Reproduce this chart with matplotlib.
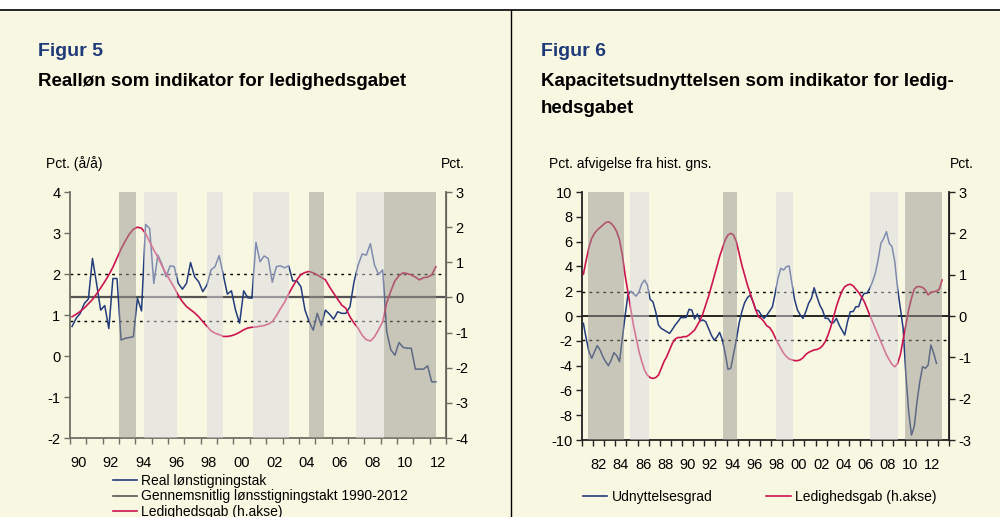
import matplotlib.pyplot as plt
import pandas as pd
from matplotlib.lines import Line2D

plt.rcParams["font.family"] = ["Liberation Sans", "DejaVu Sans"]
plt.rcParams["font.size"] = 10.5
plt.rcParams["axes.unicode_minus"] = False

BG = "#F8F7E2"
BLUE = "#233C7D"
RED = "#CC1450"
GREY = "#555555"
NAVY = "#1E3A78"

# Figur 5: real lønstigningstakt (venstre akse), kvartaler fra 1990K1
real_wage = [
    0.72, 0.92, 1.04, 1.28, 1.39, 2.38, 1.77, 1.12, 1.23, 0.67,
    1.89, 1.89, 0.39, 0.43, 0.45, 0.47, 1.41, 1.10, 3.21, 3.11,
    1.77, 2.46, 2.24, 1.93, 2.20, 2.18, 1.77, 1.63, 1.77, 2.28,
    1.93, 1.81, 1.57, 1.73, 2.10, 2.18, 2.45, 1.98, 1.51, 1.59,
    1.12, 0.80, 1.59, 1.42, 1.41, 2.77, 2.30, 2.44, 2.38, 1.80,
    2.18, 2.20, 2.15, 2.20, 1.83, 1.83, 1.69, 1.12, 0.84, 0.63,
    1.04, 0.74, 1.12, 1.02, 0.90, 1.08, 1.04, 1.04, 1.20, 1.81,
    2.22, 2.49, 2.46, 2.74, 2.22, 1.99, 2.10, 0.59, 0.15, 0.02,
    0.33, 0.21, 0.19, 0.19, -0.32, -0.32, -0.32, -0.24, -0.63, -0.63,
]
# ledighedsgab (højre akse), samme kvartaler
gap5 = [
    -0.55, -0.48, -0.40, -0.30, -0.18, -0.06, 0.10, 0.27, 0.45, 0.64,
    0.86, 1.12, 1.38, 1.60, 1.80, 1.94, 2.00, 1.97, 1.82, 1.58,
    1.35, 1.15, 0.90, 0.68, 0.48, 0.28, 0.06, -0.12, -0.26, -0.35,
    -0.44, -0.55, -0.69, -0.82, -0.95, -1.02, -1.06, -1.11, -1.11, -1.09,
    -1.05, -0.99, -0.92, -0.87, -0.85, -0.84, -0.82, -0.80, -0.76, -0.69,
    -0.52, -0.32, -0.14, 0.10, 0.31, 0.50, 0.65, 0.71, 0.74, 0.70,
    0.64, 0.57, 0.50, 0.30, 0.12, -0.05, -0.22, -0.31, -0.55, -0.73,
    -0.88, -1.08, -1.20, -1.24, -1.12, -0.92, -0.69, -0.15, 0.18, 0.47,
    0.62, 0.70, 0.68, 0.64, 0.58, 0.50, 0.56, 0.58, 0.64, 0.87,
]
avg_wage = 1.43
wage_band = 0.58
dark5 = [(1993.0, 1994.04), (2004.6, 2005.55), (2009.2, 2012.4)]
light5 = [(1994.5, 1996.55), (1998.4, 1999.35), (2001.2, 2003.4), (2007.5, 2009.2)]

# Figur 6: udnyttelsesgrad (venstre akse), kvartaler fra 1981K1
capacity = [
    -0.59, -1.80, -2.88, -3.41, -2.88, -2.39, -2.74, -3.28, -3.68, -4.01,
    -3.55, -2.96, -3.20, -3.68, -1.80, 0.00, 1.70, 2.00, 1.80, 1.60,
    1.95, 2.60, 2.90, 2.50, 1.35, 1.15, 0.35, -0.73, -1.00, -1.13,
    -1.26, -1.40, -1.08, -0.73, -0.46, -0.13, -0.13, -0.11, 0.54, 0.48,
    -0.24, 0.16, -0.40, -0.32, -0.46, -1.00, -1.53, -1.94, -1.72, -1.32,
    -1.94, -3.01, -4.30, -4.22, -3.09, -1.94, -0.59, 0.35, 1.08, 1.48,
    1.69, 1.16, 0.48, 0.43, 0.08, -0.19, 0.08, 0.40, 0.75, 1.83,
    3.04, 3.84, 3.71, 3.98, 4.03, 2.63, 1.29, 0.48, 0.08, -0.19,
    0.35, 1.02, 1.42, 2.28, 1.56, 0.89, 0.48, -0.19, -0.19, -0.54,
    -0.54, -0.19, -0.73, -1.13, -1.53, -0.46, 0.35, 0.35, 0.75, 0.75,
    1.42, 1.83, 1.83, 2.23, 2.77, 3.44, 4.52, 5.86, 6.26, 6.80,
    5.86, 5.59, 4.38, 2.23, 0.62, -0.99, -4.76, -7.72, -9.60, -8.92,
    -6.91, -5.30, -4.09, -4.22, -3.95, -2.34, -3.01, -3.82,
]
gap6 = [
    1.01, 1.35, 1.66, 1.88, 2.00, 2.08, 2.14, 2.20, 2.26, 2.28,
    2.24, 2.16, 2.04, 1.84, 1.48, 0.99, 0.59, 0.19, -0.22, -0.54,
    -0.86, -1.10, -1.31, -1.43, -1.49, -1.51, -1.49, -1.43, -1.27, -1.10,
    -0.98, -0.82, -0.66, -0.56, -0.52, -0.52, -0.50, -0.50, -0.46, -0.40,
    -0.34, -0.22, -0.10, 0.06, 0.27, 0.47, 0.71, 0.95, 1.19, 1.44,
    1.64, 1.84, 1.96, 2.00, 1.96, 1.80, 1.52, 1.23, 0.99, 0.75,
    0.55, 0.35, 0.15, -0.02, -0.06, -0.14, -0.24, -0.28, -0.38, -0.52,
    -0.66, -0.78, -0.90, -0.98, -1.04, -1.06, -1.08, -1.08, -1.06, -1.01,
    -0.93, -0.88, -0.85, -0.82, -0.81, -0.78, -0.72, -0.62, -0.46, -0.26,
    -0.02, 0.23, 0.43, 0.60, 0.71, 0.75, 0.77, 0.73, 0.65, 0.57,
    0.47, 0.35, 0.19, 0.02, -0.14, -0.30, -0.46, -0.62, -0.78, -0.94,
    -1.06, -1.17, -1.23, -1.15, -0.94, -0.58, -0.22, 0.15, 0.43, 0.65,
    0.71, 0.71, 0.69, 0.63, 0.51, 0.57, 0.59, 0.60, 0.65, 0.87,
]
cap_band = 1.93
dark6 = [(1981.5, 1984.8), (1993.72, 1994.94), (2010.05, 2013.4)]
light6 = [(1985.34, 1987.04), (1998.44, 1999.97), (2006.88, 2009.4)]


def quarters(start, n):
    q = pd.period_range(start, periods=n, freq="Q")
    return q.year + (q.quarter - 0.5) / 4


def style_axes(ax, ax2, x0, x1, first_label, spine_col):
    ax.set_facecolor(BG)
    ax.set_xlim(x0, x1)
    ax.spines["top"].set_visible(False)
    ax2.spines["top"].set_visible(False)
    for sp in ["left", "bottom"]:
        ax.spines[sp].set_color(spine_col)
        ax.spines[sp].set_linewidth(1.3)
    ax2.spines["right"].set_color(spine_col)
    ax2.spines["right"].set_linewidth(1.3)
    ax2.spines["left"].set_visible(False)
    ax2.spines["bottom"].set_visible(False)
    ax.set_xticks(range(x0, x1 + 1))
    ax.set_xticklabels([])
    label_years = list(range(first_label, x1, 2))
    ax.set_xticks([y + 0.5 for y in label_years], minor=True)
    ax.set_xticklabels([f"{y % 100:02d}" for y in label_years], minor=True)
    ax.tick_params(axis="x", which="major", length=4, width=1, color=spine_col, direction="out")
    ax.tick_params(axis="x", which="minor", length=0, pad=13)
    ax.tick_params(axis="y", length=4, width=1, color=spine_col, pad=3)
    ax2.tick_params(axis="y", length=4, width=1, color=spine_col, pad=3)


def bands(ax2, dark, light):
    for s, e in dark:
        ax2.axvspan(s, e, color="#98978F", alpha=0.5, lw=0, zorder=5)
    for s, e in light:
        ax2.axvspan(s, e, color="#DCDBDF", alpha=0.5, lw=0, zorder=5)


fig = plt.figure(figsize=(10, 5.17), dpi=100, facecolor=BG)
fig.add_artist(plt.Rectangle((0, 1 - 10 / 517), 1, 10 / 517, transform=fig.transFigure, color="white", zorder=0))
fig.add_artist(Line2D([0, 1], [1 - 10 / 517] * 2, transform=fig.transFigure, color="black", lw=1.2))
fig.add_artist(Line2D([0.511, 0.511], [0, 1 - 10 / 517], transform=fig.transFigure, color="black", lw=1.0))

# ---------- Figur 5 ----------
ax = fig.add_axes([0.070, 1 - 438 / 517, 0.376, 246 / 517])
ax2 = ax.twinx()
ax.axhline(avg_wage, color=GREY, lw=1.6, zorder=1)
ax.axhline(avg_wage + wage_band, color="black", lw=1, ls=(0, (2, 3)), zorder=1)
ax.axhline(avg_wage - wage_band, color="black", lw=1, ls=(0, (2, 3)), zorder=1)
ax.plot(quarters("1990Q1", len(real_wage)), real_wage, color=BLUE, lw=1.1, zorder=2)
ax2.plot(quarters("1990Q1", len(gap5)), gap5, color=RED, lw=1.2, zorder=2)
bands(ax2, dark5, light5)
ax.set_ylim(-2, 4)
ax2.set_ylim(-4, 3)
ax.set_yticks(range(-2, 5))
ax2.set_yticks(range(-4, 4))
style_axes(ax, ax2, 1990, 2013, 1990, "#6E6E66")

fig.text(0.038, 1 - 52 / 517, "Figur 5", color=NAVY, fontsize=14, fontweight="bold", va="center")
fig.text(0.038, 1 - 82 / 517, "Realløn som indikator for ledighedsgabet", fontsize=13.5, fontweight="bold", va="center")
fig.text(0.046, 1 - 164 / 517, "Pct. (å/å)", va="center", fontsize=10)
fig.text(0.441, 1 - 164 / 517, "Pct.", va="center", fontsize=10)

h5 = [Line2D([], [], color=BLUE, lw=1.2), Line2D([], [], color=GREY, lw=1.2), Line2D([], [], color=RED, lw=1.2)]
fig.legend(h5, ["Real lønstigningstak", "Gennemsnitlig lønsstigningstakt 1990-2012", "Ledighedsgab (h.akse)"],
           loc="upper left", bbox_to_anchor=(0.113, 1 - 474 / 517), frameon=False, fontsize=10,
           handlelength=1.75, handletextpad=0.3, labelspacing=0.1, borderpad=0, borderaxespad=0)

# ---------- Figur 6 ----------
bx = fig.add_axes([0.582, 1 - 440 / 517, 0.367, 248 / 517])
bx2 = bx.twinx()
bx.axhline(0, color="black", lw=1.2, zorder=1)
bx.axhline(cap_band, color="black", lw=1, ls=(0, (2, 3)), zorder=1)
bx.axhline(-cap_band, color="black", lw=1, ls=(0, (2, 3)), zorder=1)
bx.plot(quarters("1981Q1", len(capacity)), capacity, color=BLUE, lw=1.1, zorder=2)
bx2.plot(quarters("1981Q1", len(gap6)), gap6, color=RED, lw=1.2, zorder=2)
bands(bx2, dark6, light6)
bx.set_ylim(-10, 10)
bx2.set_ylim(-3, 3)
bx.set_yticks(range(-10, 11, 2))
bx2.set_yticks(range(-3, 4))
style_axes(bx, bx2, 1981, 2014, 1982, "#222222")

fig.text(0.541, 1 - 52 / 517, "Figur 6", color=NAVY, fontsize=14, fontweight="bold", va="center")
fig.text(0.541, 1 - 82 / 517, "Kapacitetsudnyttelsen som indikator for ledig-", fontsize=13.5, fontweight="bold", va="center")
fig.text(0.541, 1 - 109 / 517, "hedsgabet", fontsize=13.5, fontweight="bold", va="center")
fig.text(0.549, 1 - 164 / 517, "Pct. afvigelse fra hist. gns.", va="center", fontsize=10)
fig.text(0.950, 1 - 164 / 517, "Pct.", va="center", fontsize=10)

h6 = [Line2D([], [], color=BLUE, lw=1.2), Line2D([], [], color=RED, lw=1.2)]
fig.legend(h6, ["Udnyttelsesgrad", "Ledighedsgab (h.akse)"], ncol=2,
           loc="upper left", bbox_to_anchor=(0.583, 1 - 490 / 517), frameon=False, fontsize=10,
           handlelength=1.75, handletextpad=0.3, columnspacing=3.9, borderpad=0, borderaxespad=0)

fig.savefig("out.png", dpi=100, facecolor=BG)
